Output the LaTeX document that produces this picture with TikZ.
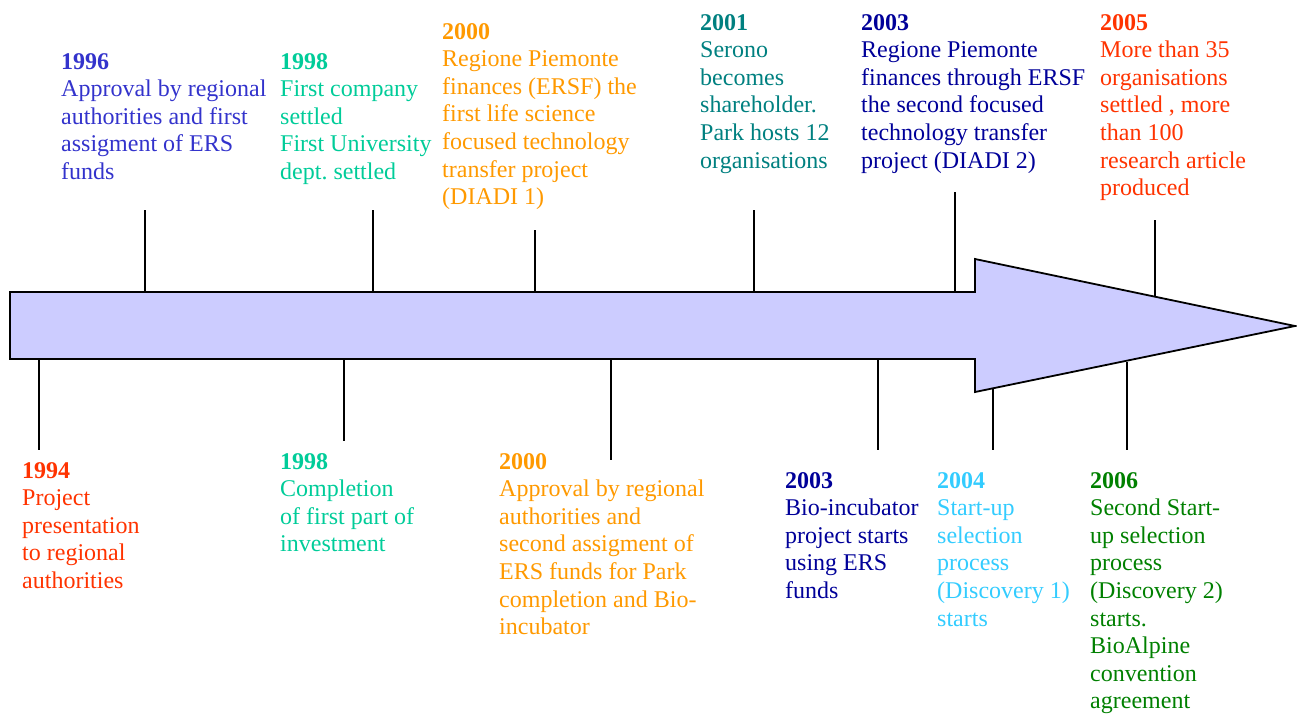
\documentclass[tikz,border=0pt]{standalone}
\usepackage{fontspec}
\setmainfont{Liberation Serif}
\frenchspacing
\definecolor{cBlue}{RGB}{51,51,204}
\definecolor{cTealGreen}{RGB}{0,204,153}
\definecolor{cOrange}{RGB}{255,153,0}
\definecolor{cTeal}{RGB}{0,128,128}
\definecolor{cNavy}{RGB}{0,0,153}
\definecolor{cRed}{RGB}{255,51,0}
\definecolor{cLight}{RGB}{51,204,255}
\definecolor{cGreen}{RGB}{0,128,0}
\definecolor{cFill}{RGB}{204,204,255}
\begin{document}
\begin{tikzpicture}[x=1pt,y=-1pt,
  evt/.style={anchor=north west, align=left, inner sep=0pt, font=\fontsize{24}{27.6}\selectfont},
  tick/.style={draw=black, line width=1.4pt},
  arrowbody/.style={draw=black, fill=cFill, line width=1.8pt, line join=miter}]
\useasboundingbox (0,0) rectangle (1297,713);
% arrow
\coordinate (a1) at (10,292);
\coordinate (a2) at (975,292);
\coordinate (a3) at (975,259);
\coordinate (tip) at (1295,326);
\coordinate (a5) at (975,392);
\coordinate (a6) at (975,359);
\coordinate (a7) at (10,359);
\draw[arrowbody] (a1) -- (a2) -- (a3) -- (tip) -- (a5) -- (a6) -- (a7) -- cycle;
% top ticks
\coordinate (t1a) at (145,292); \coordinate (t1b) at (145,210);
\coordinate (t2a) at (373,292); \coordinate (t2b) at (373,210);
\coordinate (t3a) at (535,292); \coordinate (t3b) at (535,230);
\coordinate (t4a) at (754,292); \coordinate (t4b) at (754,210);
\coordinate (t5a) at (955,292); \coordinate (t5b) at (955,192);
\coordinate (t6a) at (1155,296); \coordinate (t6b) at (1155,220);
\foreach \i in {1,...,6} \draw[tick] (t\i a) -- (t\i b);
% bottom ticks
\coordinate (b1a) at (39,359); \coordinate (b1b) at (39,450);
\coordinate (b2a) at (344,359); \coordinate (b2b) at (344,441);
\coordinate (b3a) at (611,359); \coordinate (b3b) at (611,460);
\coordinate (b4a) at (878,359); \coordinate (b4b) at (878,450);
\coordinate (b5a) at (993,388); \coordinate (b5b) at (993,450);
\coordinate (b6a) at (1127,362); \coordinate (b6b) at (1127,450);
\foreach \i in {1,...,6} \draw[tick] (b\i a) -- (b\i b);
% top labels
\node[evt, text=cBlue] (e1996) at (61,53) {\textbf{1996}\\Approval by regional\\authorities and first\\assigment of ERS\\funds};
\node[evt, text=cTealGreen] (e1998a) at (280,53) {\textbf{1998}\\First company\\settled\\First University\\dept. settled};
\node[evt, text=cOrange] (e2000a) at (442,23) {\textbf{2000}\\Regione Piemonte\\finances (ERSF) the\\first life science\\focused technology\\transfer project\\(DIADI 1)};
\node[evt, text=cTeal] (e2001) at (700,14) {\textbf{2001}\\Serono\\becomes\\shareholder.\\Park hosts 12\\organisations};
\node[evt, text=cNavy] (e2003a) at (861,14) {\textbf{2003}\\Regione Piemonte\\finances through ERSF\\the second focused\\technology transfer\\project (DIADI 2)};
\node[evt, text=cRed] (e2005) at (1100,14) {\textbf{2005}\\More than 35\\organisations\\settled , more\\than 100\\research article\\produced};
% bottom labels
\node[evt, text=cRed] (e1994) at (22,462) {\textbf{1994}\\Project\\presentation\\to regional\\authorities};
\node[evt, text=cTealGreen] (e1998b) at (280,453) {\textbf{1998}\\Completion\\of first part of\\investment};
\node[evt, text=cOrange] (e2000b) at (499,453) {\textbf{2000}\\Approval by regional\\authorities and\\second assigment of\\ERS funds for Park\\completion and Bio-\\incubator};
\node[evt, text=cNavy] (e2003b) at (785,472) {\textbf{2003}\\Bio-incubator\\project starts\\using ERS\\funds};
\node[evt, text=cLight] (e2004) at (937,472) {\textbf{2004}\\Start-up\\selection\\process\\(Discovery 1)\\starts};
\node[evt, text=cGreen] (e2006) at (1090,472) {\textbf{2006}\\Second Start-\\up selection\\process\\(Discovery 2)\\starts.\\BioAlpine\\convention\\agreement};
\end{tikzpicture}
\end{document}
